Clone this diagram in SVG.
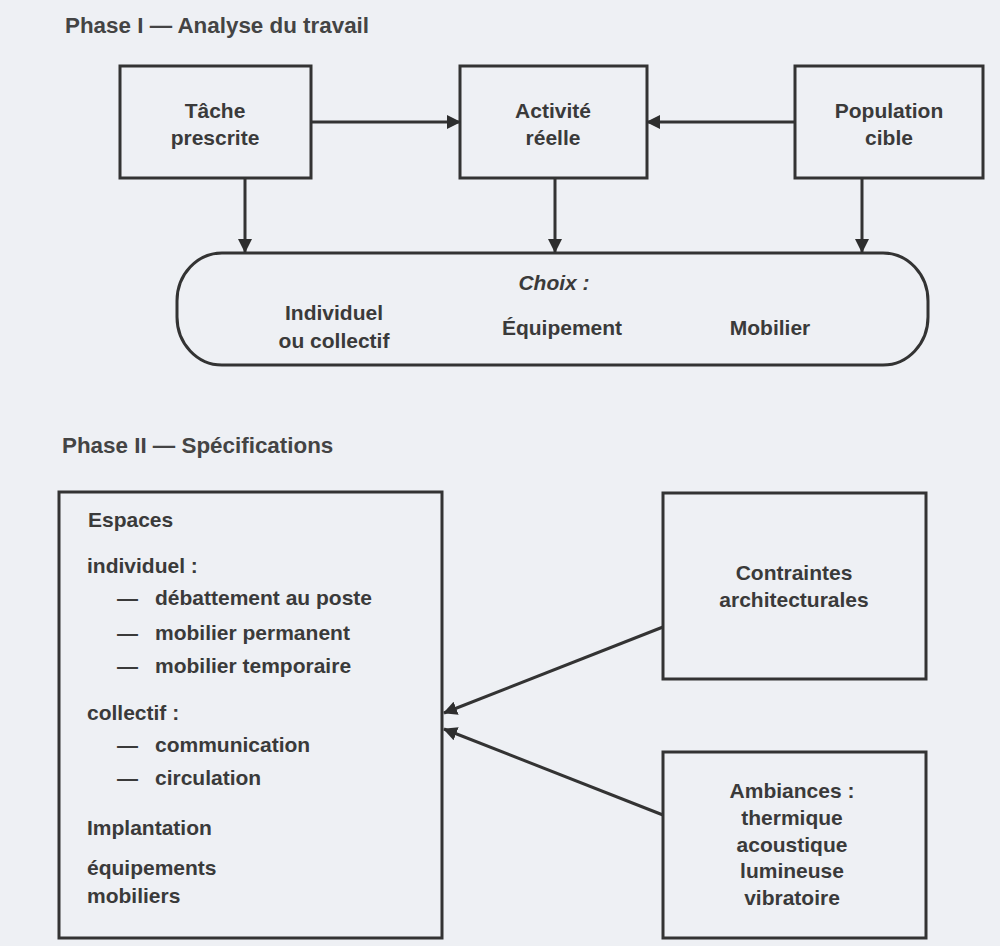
<svg xmlns="http://www.w3.org/2000/svg" width="1000" height="946" viewBox="0 0 1000 946">
<style>
text{font-family:"Liberation Sans",Arial,sans-serif;font-size:21px;font-weight:bold;fill:#3a3a3a}
.t{font-size:22.4px;fill:#444}
.c{text-anchor:middle}
.box{fill:none;stroke:#333;stroke-width:3}
.ln{fill:none;stroke:#333;stroke-width:3}
</style>
<defs>
<marker id="ah" viewBox="0 0 14 14" refX="13" refY="7" markerWidth="14" markerHeight="14" markerUnits="userSpaceOnUse" orient="auto">
<path d="M0,0 L14,7 L0,14 Z" fill="#2e2e2e"/>
</marker>
</defs>
<rect width="1000" height="946" fill="#eef0f4"/>
<text class="t" x="65" y="33">Phase I — Analyse du travail</text>
<text class="t" x="62" y="453">Phase II — Spécifications</text>
<g id="tache">
<rect class="box" x="120" y="66" width="191" height="112"/>
<text class="c" x="215" y="118">Tâche</text>
<text class="c" x="215" y="145">prescrite</text>
</g>
<g id="activite">
<rect class="box" x="460" y="66" width="187" height="112"/>
<text class="c" x="553" y="118">Activité</text>
<text class="c" x="553" y="145">réelle</text>
</g>
<g id="population">
<rect class="box" x="795" y="66" width="188" height="112"/>
<text class="c" x="889" y="118">Population</text>
<text class="c" x="889" y="145">cible</text>
</g>
<g id="choix">
<rect class="box" x="177" y="253" width="751" height="112" rx="45" ry="48"/>
<text class="c" x="554" y="290" font-style="italic">Choix :</text>
<text class="c" x="334" y="320">Individuel</text>
<text class="c" x="334" y="348">ou collectif</text>
<text class="c" x="562" y="335">Équipement</text>
<text class="c" x="770" y="335">Mobilier</text>
</g>
<g id="espaces">
<rect class="box" x="59" y="492" width="383" height="446"/>
<text x="88" y="527">Espaces</text>
<text x="87" y="573">individuel :</text>
<text x="117" y="605">—</text><text x="155" y="605">débattement au poste</text>
<text x="117" y="640">—</text><text x="155" y="640">mobilier permanent</text>
<text x="117" y="673">—</text><text x="155" y="673">mobilier temporaire</text>
<text x="87" y="720">collectif :</text>
<text x="117" y="752">—</text><text x="155" y="752">communication</text>
<text x="117" y="785">—</text><text x="155" y="785">circulation</text>
<text x="87" y="835">Implantation</text>
<text x="87" y="875">équipements</text>
<text x="87" y="903">mobiliers</text>
</g>
<g id="contraintes">
<rect class="box" x="663" y="493" width="263" height="186"/>
<text class="c" x="794" y="580">Contraintes</text>
<text class="c" x="794" y="607">architecturales</text>
</g>
<g id="ambiances">
<rect class="box" x="663" y="752" width="263" height="186"/>
<text class="c" x="792" y="798">Ambiances :</text>
<text class="c" x="792" y="825">thermique</text>
<text class="c" x="792" y="852">acoustique</text>
<text class="c" x="792" y="878">lumineuse</text>
<text class="c" x="792" y="905">vibratoire</text>
</g>
<g id="connectors">
<line class="ln" x1="311" y1="122" x2="460" y2="122" marker-end="url(#ah)"/>
<line class="ln" x1="795" y1="122" x2="647" y2="122" marker-end="url(#ah)"/>
<line class="ln" x1="245" y1="178" x2="245" y2="252" marker-end="url(#ah)"/>
<line class="ln" x1="555" y1="178" x2="555" y2="252" marker-end="url(#ah)"/>
<line class="ln" x1="862" y1="178" x2="862" y2="252" marker-end="url(#ah)"/>
<line class="ln" x1="663" y1="627" x2="444" y2="713" marker-end="url(#ah)"/>
<line class="ln" x1="663" y1="815" x2="444" y2="729" marker-end="url(#ah)"/>
</g>
</svg>
